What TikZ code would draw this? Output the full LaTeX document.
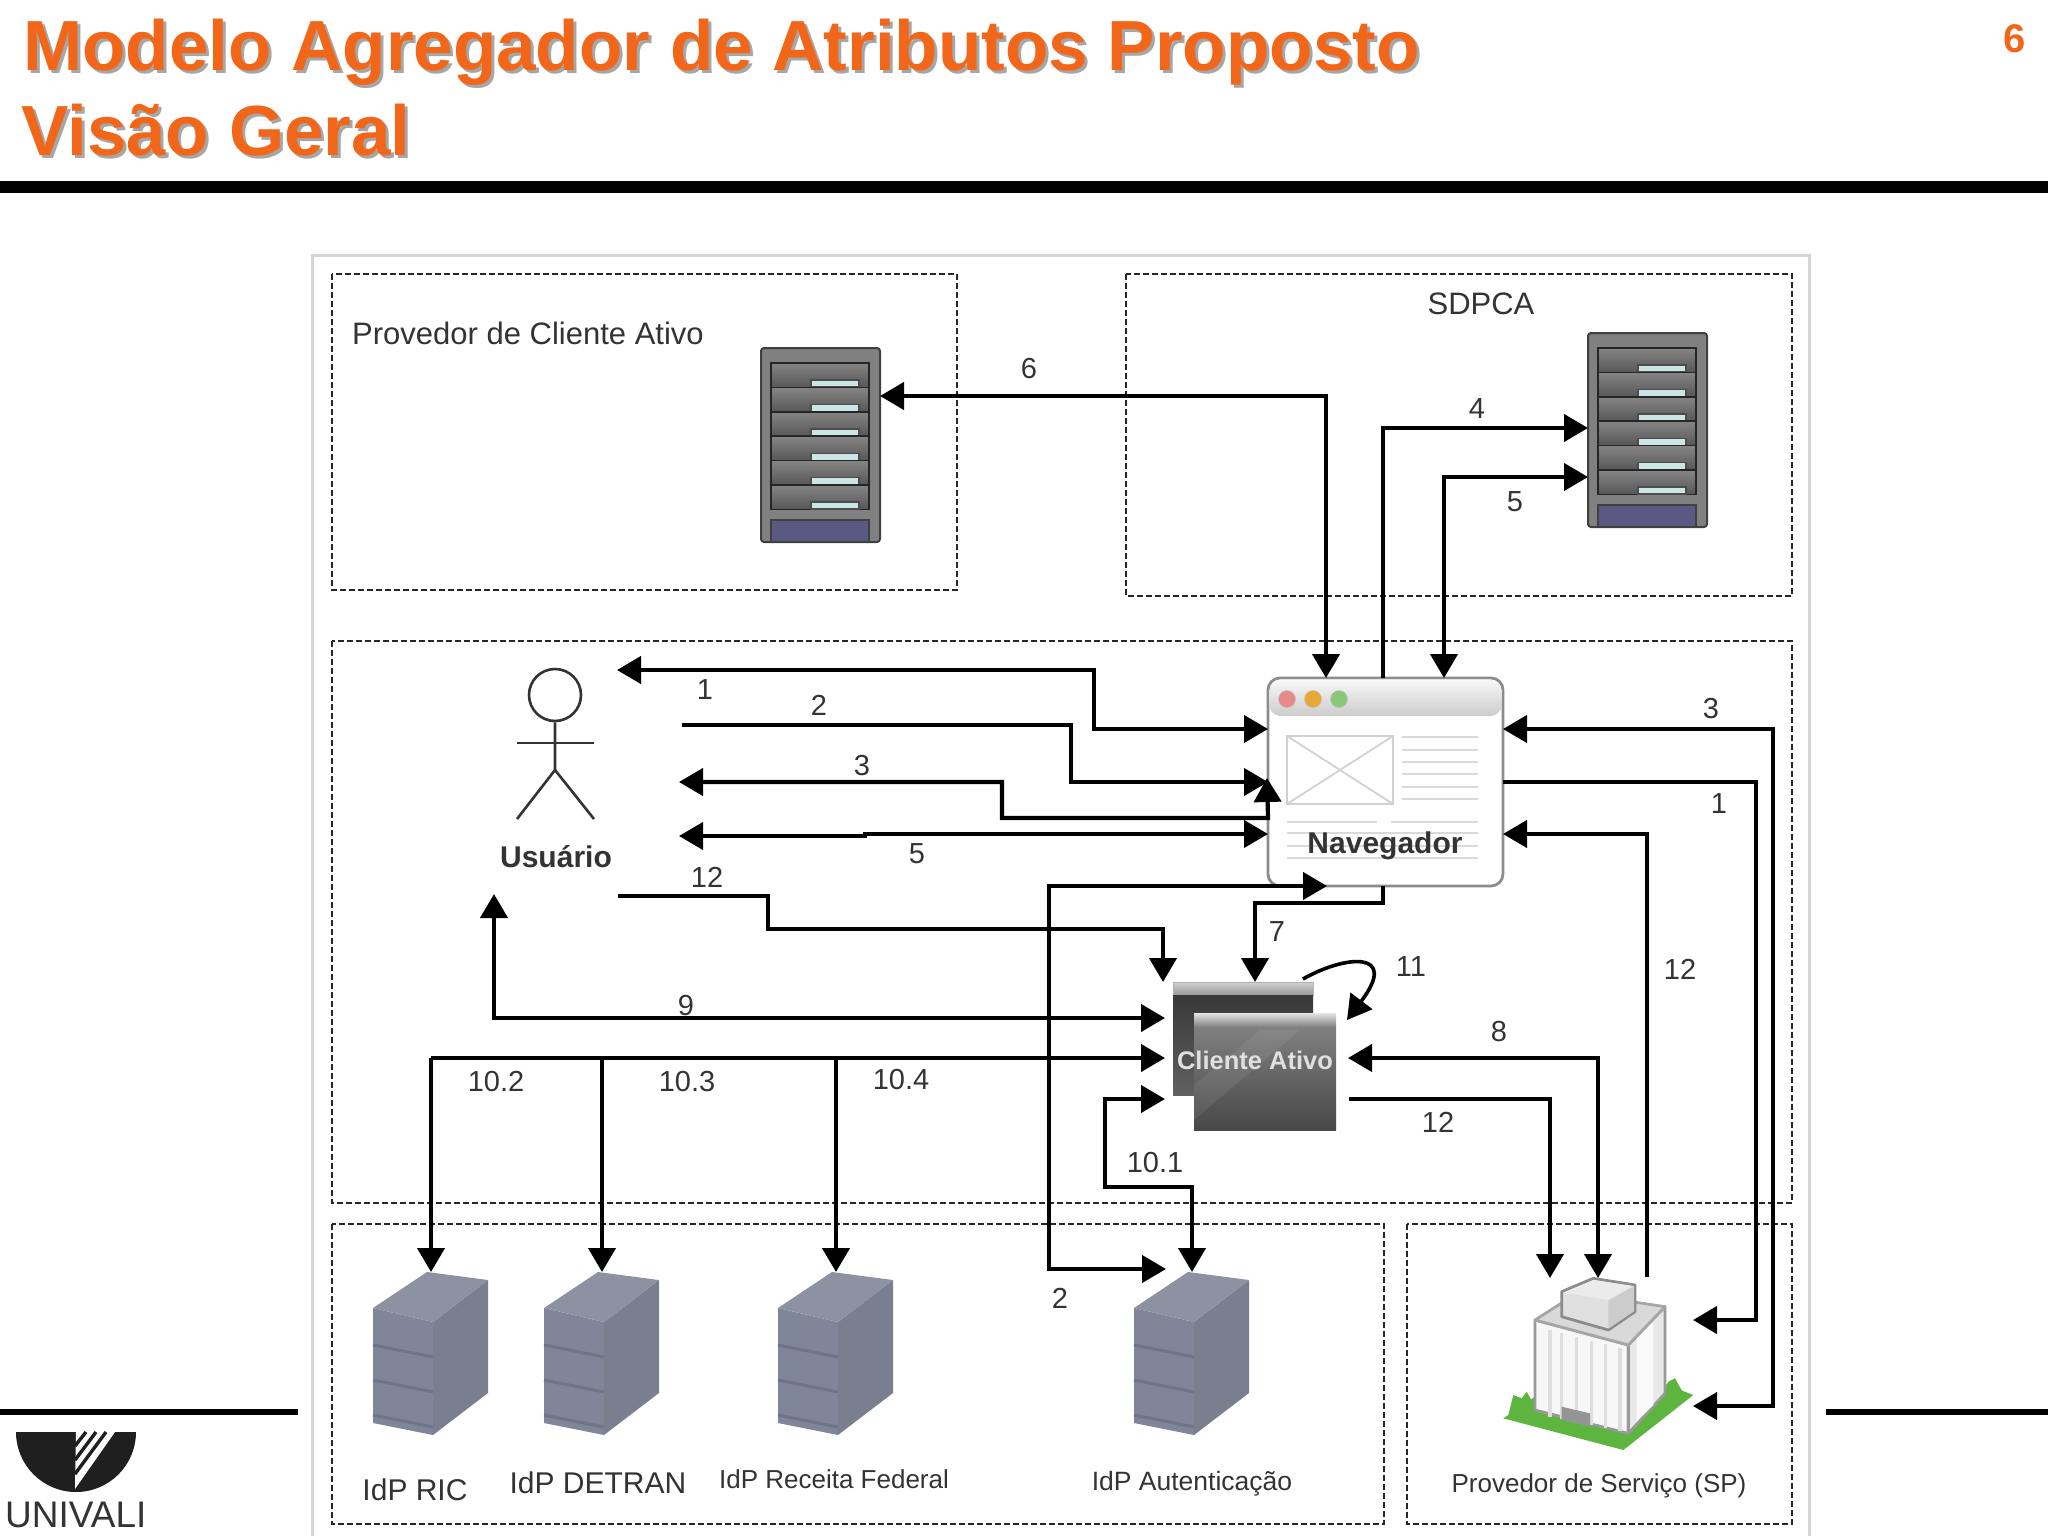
\documentclass[tikz,border=0pt]{standalone}
\usepackage{fontspec}
\setmainfont{Liberation Sans}
\usetikzlibrary{arrows.meta}
\definecolor{titleorange}{HTML}{F2661A}
\definecolor{inktext}{HTML}{333333}
\definecolor{idptop}{HTML}{8C92A1}
\definecolor{idpfront}{HTML}{80869A}
\definecolor{idpside}{HTML}{7A7F90}
\definecolor{idpshelf}{HTML}{6F7486}
\definecolor{lawn}{HTML}{5DB53F}
\tikzset{
  flowend/.style={line width=4.2pt, -{Triangle[length=24pt,width=27pt]}},
  flowboth/.style={line width=4.2pt, {Triangle[length=24pt,width=27pt]}-{Triangle[length=24pt,width=27pt]}},
  zonebox/.style={draw=black!85, line width=2.4pt, dash pattern=on 6pt off 3pt},
  flowlabel/.style={font=\fontsize{29}{34}\selectfont, text=inktext, inner sep=0pt, yshift=-1.3pt},
  zonelabel/.style={font=\fontsize{31}{36}\selectfont, text=inktext, inner sep=0pt},
  boldlabel/.style={font=\bfseries\fontsize{30}{36}\selectfont, text=black!80, inner sep=0pt},
  titletext/.style={font=\bfseries\fontsize{71}{80}\selectfont, text=titleorange, inner sep=0pt, anchor=base west},
  titleshade/.style={font=\bfseries\fontsize{71}{80}\selectfont, text=black!35, inner sep=0pt, anchor=base west},
  thinrule/.style={draw=black!16, line width=3pt},
  rackserver/.pic={
    \draw[fill=black!50, draw=black!75, line width=2pt, rounded corners=3pt] (0,0) rectangle (119,194);
    \foreach \n in {0,...,5} {
      \draw[top color=black!48, bottom color=black!66, draw=black!85, line width=1.6pt]
        (10,15+\n*24.4) rectangle (108,39.4+\n*24.4);
      \draw[fill=teal!20, draw=black!70, line width=1.4pt] (50,32+\n*24.4) rectangle (98,39+\n*24.4);
    }
    \draw[fill=blue!25!black!65, draw=black!75, line width=1.4pt] (10,172) rectangle (108,194);
  },
  idpstack/.pic={
    \coordinate (-top) at (0,0);
    \fill[idpfront] (-58,36) -- (2,50) -- (2,163) -- (-58,151) -- cycle;
    \fill[idpside] (2,50) -- (57,8) -- (57,121) -- (2,163) -- cycle;
    \fill[idptop] (-58,36) -- (-4,0) -- (57,8) -- (2,50) -- cycle;
    \foreach \h in {73,108,143}
      \draw[idpshelf, line width=3pt] (-58,\h) -- (2,\h+12);
  }
}
\begin{document}
\begin{tikzpicture}[x=1pt,y=-1pt]
\useasboundingbox (0,0) rectangle (2048,1536);

% Slide title and rules
\node[titleshade] (titleshadeone) at (26,74) {Modelo Agregador de Atributos Proposto};
\node[titleshade] (titleshadetwo) at (24,159) {Visão Geral};
\node[titletext] (titleone) at (23,71) {Modelo Agregador de Atributos Proposto};
\node[titletext] (titletwo) at (21,156) {Visão Geral};
\node[font=\bfseries\fontsize{40}{46}\selectfont, text=titleorange, inner sep=0pt] (pagenum) at (2015,39) {6};
\draw[line width=12pt] (0,187) -- (2048,187);
\draw[line width=6pt] (0,1412) -- (298,1412);
\draw[line width=6pt] (1826,1412) -- (2048,1412);

% Logo
\fill[black!88] (16,1432) arc[start angle=180, end angle=0, radius=60] -- cycle;
\fill[white] (76,1432) -- (115,1432) -- (75,1489) -- cycle;
\foreach \sx/\sy in {86/1446,96/1460,106/1474}
  \draw[black!88, line width=3.4pt] (\sx,1432) -- (75,\sy);
\node[font=\fontsize{37}{40}\selectfont, text=black!80, inner sep=0pt, anchor=base west] (logotext) at (5,1527) {UNIVALI};

% Frame and zones
\draw[thinrule] (312,1536) -- (312,255) -- (1809,255) -- (1809,1536);
\draw[zonebox] (332,274) rectangle (957,590);
\draw[zonebox] (1126,274) rectangle (1792,596);
\draw[zonebox] (332,641) rectangle (1792,1203);
\draw[zonebox] (332,1224) rectangle (1384,1524);
\draw[zonebox] (1407,1224) rectangle (1792,1524);

% Servers
\pic (rackpca) at (761,348) {rackserver};
\pic (racksdpca) at (1588,333) {rackserver};
\pic (idpric) at (431,1272) {idpstack};
\pic (idpdetran) at (602,1272) {idpstack};
\pic (idpreceita) at (836,1272) {idpstack};
\pic (idpauth) at (1192,1272) {idpstack};

% User
\node[circle, draw=black!80, line width=2.6pt, minimum size=52pt, inner sep=0pt] (usrhead) at (555,695) {};
\draw[black!80, line width=2.6pt] (usrhead.south) -- (555,770) -- (517,819);
\draw[black!80, line width=2.6pt] (555,770) -- (594,819);
\draw[black!80, line width=2.6pt] (517,743) -- (594,743);
\node[boldlabel] (usrlabel) at (556,857) {Usuário};

% Browser window
\node[draw=black!45, line width=2.8pt, fill=white, rounded corners=12pt, minimum width=235pt, minimum height=208pt, inner sep=0pt] (nav) at (1385.5,782) {};
\path[top color=black!3, bottom color=black!20, rounded corners=11pt] (1269.5,679.5) -- (1269.5,716) -- (1501.5,716) -- (1501.5,679.5) -- cycle;
\foreach \bx/\bc in {1287/E88A8A,1313/E8A838,1339/88C878} {
  \definecolor{btncolor}{HTML}{\bc}
  \fill[btncolor, draw=black!25] (\bx,699) circle[radius=8.5];
}
\draw[black!18, line width=1.8pt] (1287,736) rectangle (1393,804) (1287,736) -- (1393,804) (1287,804) -- (1393,736);
\foreach \h in {737,750,762,774,787,799}
  \draw[black!15, line width=1.8pt] (1402,\h) -- (1478,\h);
\draw[black!15, line width=1.8pt] (1287,822) -- (1377,822) (1391,822) -- (1478,822);
\foreach \h in {833,846,858}
  \draw[black!15, line width=1.8pt] (1287,\h) -- (1478,\h);
\node[boldlabel] (navlabel) at (1385,846) {Navegador};

% Client windows
\draw[black!30, top color=black!18, bottom color=black!40] (1173,982) rectangle (1313,995);
\fill[top color=black!78, bottom color=black!62] (1173,995) rectangle (1313,1095);
\node[fill=black!70, top color=black!50, bottom color=black!72, minimum width=142pt, minimum height=103pt, inner sep=0pt] (cliente) at (1265,1078.5) {};
\path[top color=black!10, bottom color=black!50] (1194,1013) rectangle (1336,1027);
\fill[white, opacity=.07] (1194,1120) -- (1300,1030) -- (1260,1030) -- (1194,1085) -- cycle;
\node[font=\bfseries\fontsize{25.5}{32}\selectfont, text=black!12, inner sep=0pt] (clientelabel) at (1255,1060) {Cliente Ativo};

% Service provider building
\begin{scope}[shift={(1480,1250)},scale=1/3]
  \fill[lawn] (70,505) -- (430,600) -- (640,435) -- (550,400) -- (165,440) -- cycle;
  \fill[lawn] (85,495) -- (100,435) -- (125,445) -- (140,425) -- (165,470) -- (165,500) -- cycle;
  \fill[lawn] (545,430) -- (565,395) -- (585,385) -- (610,430) -- cycle;
  \draw[draw=black!40, fill=black!3, line width=2.8pt, line join=round] (165,210) -- (445,285) -- (445,550) -- (165,480) -- cycle;
  \draw[draw=black!40, fill=black!9, line width=2.8pt, line join=round] (445,285) -- (555,170) -- (555,430) -- (445,550) -- cycle;
  \foreach \sx in {205,240,285,330,372,415}
    \fill[black!13] (\sx,250+\sx*0.25-60) rectangle (\sx+10,490+\sx*0.2-30);
  \fill[black!2] (470,265) -- (520,215) -- (520,465) -- (470,515) -- cycle;
  \draw[draw=black!35, fill=black!15, line width=2.8pt, line join=round] (165,210) -- (290,130) -- (555,170) -- (445,285) -- cycle;
  \fill[black!42] (245,470) -- (330,490) -- (330,530) -- (245,510) -- cycle;
  \draw[draw=black!45, fill=black!12, line width=2.8pt, line join=round] (245,125) -- (340,85) -- (465,105) -- (465,185) -- (385,240) -- (245,200) -- cycle;
  \fill[black!8] (250,128) -- (340,90) -- (460,108) -- (385,150) -- cycle;
  \fill[black!20] (385,152) -- (462,108) -- (462,184) -- (385,236) -- cycle;
\end{scope}

% Ports
\coordinate (pca6) at (880,396);
\coordinate (nav6) at (1326,678);
\coordinate (navout4) at (1383,678);
\coordinate (sd4) at (1588,428);
\coordinate (nav5up) at (1444,678);
\coordinate (sd5) at (1588,477);
\coordinate (usr1) at (617,670);
\coordinate (navw1) at (1268,729);
\coordinate (usr2) at (682,725);
\coordinate (navw2) at (1268,782);
\coordinate (usr3) at (679,782);
\coordinate (navw3) at (1267,778);
\coordinate (usr5) at (679,836);
\coordinate (navw5) at (1268,834);
\coordinate (usr12) at (618,896);
\coordinate (cli12a) at (1163,982);
\coordinate (navout7) at (1383,886);
\coordinate (cli7) at (1255,982);
\coordinate (navb2) at (1327,886);
\coordinate (idp2) at (1166,1269);
\coordinate (usr9) at (494,894);
\coordinate (cli9) at (1165,1018);
\coordinate (cli10) at (1165,1058);
\coordinate (bus102) at (431,1058);
\coordinate (bus103) at (602,1058);
\coordinate (bus104) at (836,1058);
\coordinate (cli101) at (1165,1099);
\coordinate (cli8) at (1348,1058);
\coordinate (sp8) at (1598,1278);
\coordinate (cli12b) at (1349,1099);
\coordinate (sp12b) at (1550,1278);
\coordinate (sp12c) at (1647,1277);
\coordinate (nave12) at (1503,834);
\coordinate (nave3) at (1503,729);
\coordinate (sp3) at (1693,1406);
\coordinate (nave1) at (1503,782);
\coordinate (sp1) at (1693,1320);
\coordinate (loopa) at (1303,979);
\coordinate (loopb) at (1347,1020);

% Connectors
\draw[flowboth] (pca6) -| (nav6);
\draw[flowend] (navout4) |- (sd4);
\draw[flowboth] (nav5up) |- (sd5);
\draw[flowboth] (usr1) -- (1094,670) |- (navw1);
\draw[flowend] (usr2) -- (1071,725) |- (navw2);
\draw[flowboth] (usr3) -- (1002,782) -- (1002,818) -- (1268,818) -- (navw3);
\draw[flowboth] (usr5) -- (865,836) -- (865,834) -- (navw5);
\draw[flowend] (usr12) -- (768,896) -- (768,929) -| (cli12a);
\draw[flowend] (navout7) -- (1383,903) -| (cli7);
\draw[flowboth] (idp2) -- (1049,1269) |- (navb2);
\draw[flowboth] (usr9) |- (cli9);
\draw[flowend] (bus102) -- (cli10);
\draw[flowend] (bus102) -- (idpric-top);
\draw[flowend] (bus103) -- (idpdetran-top);
\draw[flowend] (bus104) -- (idpreceita-top);
\draw[flowboth] (cli101) -- (1105,1099) -- (1105,1187) -| (idpauth-top);
\draw[flowboth] (cli8) -| (sp8);
\draw[flowend] (cli12b) -| (sp12b);
\draw[flowend] (sp12c) |- (nave12);
\draw[flowboth] (nave3) -- (1773,729) |- (sp3);
\draw[flowend] (nave1) -- (1756,782) |- (sp1);
\draw[flowend, line width=3.6pt] (loopa) .. controls (1345,955) and (1400,950) .. (loopb);

% Labels
\node[zonelabel] (lblpca) at (528,333) {Provedor de Cliente Ativo};
\node[zonelabel] (lblsdpca) at (1481,304) {SDPCA};
\foreach \idx/\px/\py/\txt in {
  a/1029/367/6, b/1477/407/4, c/1515/500/5, d/705/688/1, e/819/704/2, f/862/764/3,
  g/917/852/5, h/707/876/12, i/1711/707/3, j/1719/802/1, k/1680/968/12, l/1277/930/7,
  m/1411/965/11, n/686/1004/9, o/1499/1030/8, p/496/1080/10.2, q/687/1080/10.3,
  r/901/1078/10.4, s/1438/1121/12, t/1155/1161/10.1, u/1060/1297/2}
  \node[flowlabel] (lbl\idx) at (\px,\py) {\txt};
\node[flowlabel, font=\fontsize{30}{36}\selectfont] (lblric) at (415,1488) {IdP RIC};
\node[flowlabel, font=\fontsize{30}{36}\selectfont] (lbldetran) at (598,1481) {IdP DETRAN};
\node[flowlabel, font=\fontsize{26}{32}\selectfont] (lblreceita) at (834,1478) {IdP Receita Federal};
\node[flowlabel, font=\fontsize{26.5}{32}\selectfont] (lblauth) at (1192,1482) {IdP Autenticação};
\node[flowlabel, font=\fontsize{26}{32}\selectfont] (lblsp) at (1599,1485) {Provedor de Serviço (SP)};
\end{tikzpicture}
\end{document}
